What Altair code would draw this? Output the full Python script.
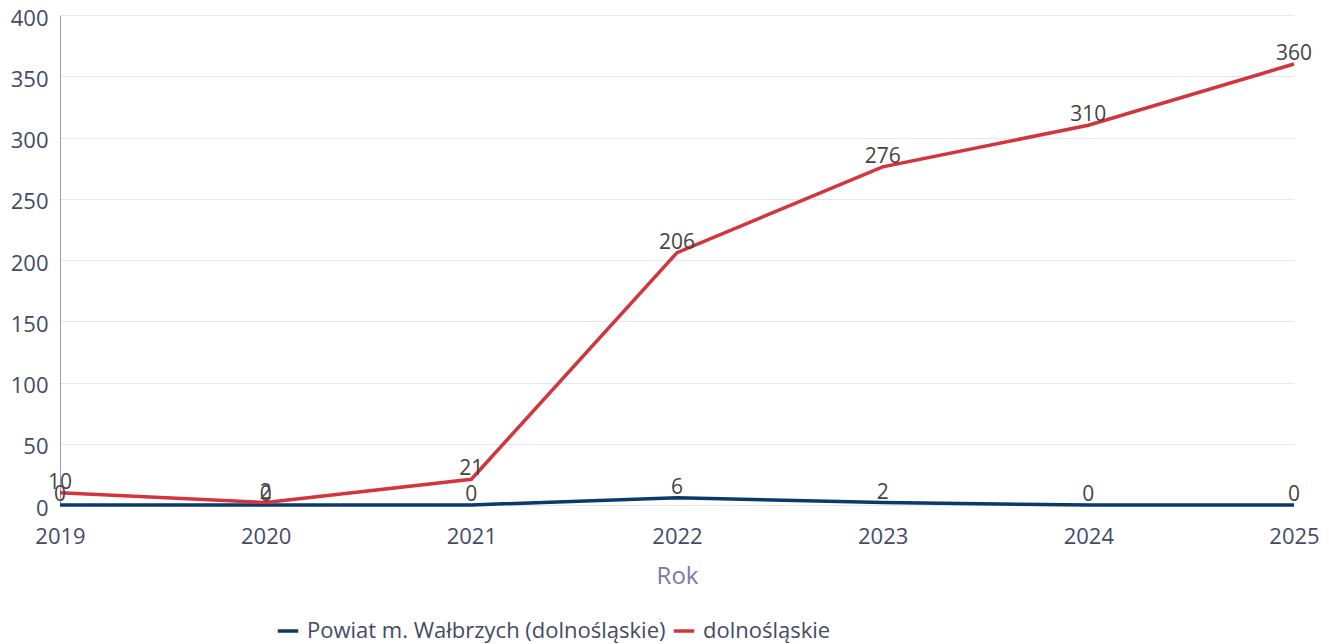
import altair as alt
import pandas as pd

years = [2019, 2020, 2021, 2022, 2023, 2024, 2025]
series_names = ["Powiat m. Wałbrzych (dolnośląskie)", "dolnośląskie"]
walbrzych = [0, 0, 0, 6, 2, 0, 0]
dolnoslaskie = [10, 2, 21, 206, 276, 310, 360]
colors = ["#0a3a6b", "#d2353b"]

rows = []
for y, v in zip(years, walbrzych):
    rows.append({"Rok": str(y), "value": v, "series": series_names[0]})
for y, v in zip(years, dolnoslaskie):
    rows.append({"Rok": str(y), "value": v, "series": series_names[1]})
df = pd.DataFrame(rows)

FONT = "Open Sans"

x = alt.X("Rok:O", scale=alt.Scale(type="point", padding=0),
          axis=alt.Axis(title="Rok", labelAngle=0, domain=False, ticks=False,
                        labelPadding=21, labelFontSize=22, labelColor="#454a66",
                        titleFontSize=24, titleFontWeight="normal", titleColor="#7b7aa6",
                        titlePadding=17, grid=False))
y = alt.Y("value:Q", scale=alt.Scale(domain=[0, 400], nice=False),
          axis=alt.Axis(title=None, values=list(range(0, 401, 50)), ticks=False,
                        domainColor="#9a9ac0", domainWidth=1, gridColor="#e6e6ee",
                        labelFontSize=22, labelColor="#454a66", labelPadding=12,
                        labelOffset=3))
color = alt.Color("series:N", scale=alt.Scale(domain=series_names, range=colors),
                  legend=alt.Legend(title=None, orient="none", legendX=216, legendY=604,
                                    direction="horizontal", symbolType="stroke",
                                    symbolStrokeWidth=3.5, symbolSize=420,
                                    labelFontSize=22, labelColor="#454a66",
                                    columnPadding=0, labelOffset=7, labelLimit=600))

base = alt.Chart(df).encode(x=x, y=y, color=color)
lines = base.mark_line(strokeWidth=3.5)
labels = base.mark_text(dy=-10, fontSize=21, font=FONT, color="#444444").encode(
    text="value:Q", color=alt.value("#444444"))

chart = (lines + labels).properties(
    width=1234, height=490,
    autosize=alt.AutoSizeParams(type="none"),
    padding={"left": 52, "top": 7, "right": 27, "bottom": 140},
).configure(font=FONT).configure_view(stroke=None)

chart.save("out.html", embed_options={"renderer": "svg", "actions": False})
